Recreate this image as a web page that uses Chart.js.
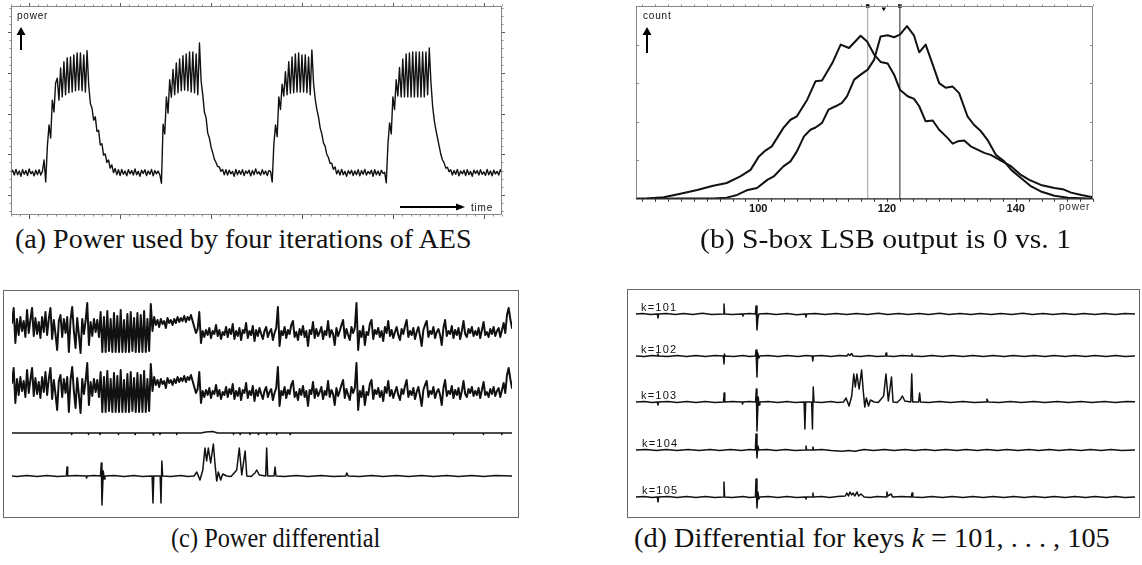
<!DOCTYPE html>
<html>
<head>
<meta charset="utf-8">
<script src="https://cdn.jsdelivr.net/npm/chart.js@4.4.1/dist/chart.umd.min.js"></script>
<style>
  body { margin: 0; background: #fff; width: 1142px; height: 565px; position: relative; overflow: hidden; }
  .pane { position: absolute; }
  .frame { position: absolute; border: 1.5px solid #666; box-sizing: border-box; }
  .cap { position: absolute; font-family: "Liberation Serif", "DejaVu Serif", serif; font-size: 28px; line-height: 32px;
         color: #111; white-space: nowrap; transform-origin: 0 50%; }
</style>
</head>
<body>
<div class="frame" style="left:3px;top:290px;width:516px;height:228px"></div>
<div class="frame" style="left:627px;top:289px;width:513px;height:229px"></div>

<canvas class="pane" id="chartA" width="515" height="222" style="left:0;top:0"></canvas>
<canvas class="pane" id="chartB" width="542" height="224" style="left:600px;top:0"></canvas>
<canvas class="pane" id="chartC" width="525" height="236" style="left:0;top:285px"></canvas>
<canvas class="pane" id="chartD" width="522" height="236" style="left:620px;top:285px"></canvas>

<div class="cap" style="left:15px;top:223px">(a) Power used by four iterations of AES</div>
<div class="cap" style="left:700px;top:223px;transform:scaleX(1.06)">(b) S-box LSB output is 0 vs. 1</div>
<div class="cap" style="left:171px;top:522px;transform:scaleX(0.87)">(c) Power differential</div>
<div class="cap" style="left:634px;top:522px;transform:scaleX(1.01)">(d) Differential for keys <i>k</i> = 101, . . . , 105</div>

<script>
// ---------- (a) power trace, one value per sample, four AES iterations ----------
var powerIter1 = [5.4,6.1,4.9,6.3,5.0,5.9,4.6,6.2,5.1,6.0,4.8,6.4,5.2,5.8,4.7,6.1,5.0,6.2,4.9,5.8,
  8.6,3.2,12.0,17.2,14.0,23.3,20.4,27.5,
  28.7,23.3,31.2,24.1,32.7,24.6,33.7,25.1,33.9,25.3,34.4,25.6,34.9,25.8,34.9,25.6,34.4,25.3,35.4,
  27.0,22.5,21.3,18.4,19.2,15.6,15.9,12.3,12.6,9.8,10.1,8.0,8.6,6.6,7.4,5.5,6.5,5.0,6.2,4.8,6.3,5.1,5.9];
var powerIter2 = [4.7,6.2,5.2,6.0,4.9,6.4,5.0,5.8,4.6,6.1,5.3,6.2,4.8,5.9,5.1,6.3,4.7,6.0,5.2,5.9,
  5.0,2.9,17.4,15.0,24.1,20.1,28.3,24.0,
  30.8,24.6,32.4,25.1,33.4,25.6,34.2,25.8,34.6,25.6,35.1,25.3,35.1,25.1,34.6,24.6,37.3,28.0,
  24.6,20.3,19.0,15.2,14.0,11.8,10.4,8.8,8.0,7.0,6.9,5.8,6.3,5.0,6.2,4.9,6.1,5.2,5.8,4.6,6.3,5.0,6.0];
var powerIter3 = [5.1,6.2,4.8,5.9,5.3,6.1,4.7,6.0,5.0,6.4,5.2,5.7,4.9,6.2,5.1,5.9,4.8,6.0,
  5.8,3.2,12.5,17.2,14.3,24.1,21.0,27.2,24.3,
  30.3,24.6,32.7,25.0,33.9,25.1,34.6,25.3,34.9,25.3,34.4,25.3,34.4,25.1,33.9,24.6,35.6,27.5,
  23.6,21.0,19.2,16.5,15.0,12.8,12.0,10.0,9.2,7.8,7.8,6.3,6.9,5.2,6.1,4.9,6.3,5.0,5.8,4.6,6.0,5.2,6.1,4.8];
var powerIter4 = [5.9,5.0,6.2,4.7,6.0,5.1,6.3,4.9,5.8,5.2,6.1,4.6,6.2,5.0,5.9,4.8,6.1,5.3,
  5.6,3.0,12.5,17.7,15.0,24.1,21.0,28.3,24.3,
  31.3,24.1,33.4,24.1,34.6,24.1,34.9,24.1,35.1,24.1,35.1,24.1,35.1,24.1,35.1,24.1,35.1,24.6,36.1,27.8,
  22.0,18.4,16.0,14.0,12.0,10.0,8.6,7.9,6.6,6.8,5.7,6.2,4.9,6.0,5.1,6.3,4.7,5.9,5.2,6.1,
  4.8,6.2,5.0,5.8,4.6,6.1,5.3,6.0,4.9,6.2,5.1,5.7,4.8,6.3,5.0,5.9,4.7,6.1,5.2,5.8,4.9,6.2,5.4];

// ---------- (b) histogram of power, [power, count] ----------
var histBit0 = [[81,0],[82.7,1],[85.3,4],[87.9,13],[90.5,23],[93.0,34],[95.1,41],[97.2,58],[98.8,75],[100.1,110],
  [101.1,125],[102.1,136],[103.9,184],[105.0,205],[106.0,214],[107.6,257],[108.9,305],[109.9,307],[111.5,352],[112.8,400],
  [114.1,391],[115.9,423],[116.9,408],[118.0,374],[119.0,355],[120.1,351],[121.1,322],[122.0,283],[123.2,266],[124.2,259],
  [125.0,240],[126.0,201],[127.1,203],[128.1,179],[129.4,158],[130.2,143],[131.0,149],[132.0,151],[133.0,136],[135.1,119],
  [136.1,114],[137.7,99],[139.3,84],[140.8,62],[142.1,49],[143.9,36],[146.0,28],[147.3,25],[148.6,16],[150.2,10],[152,4]];
var histBit1 = [[81,0],[87.9,0.5],[93.0,1],[95.1,3],[96.7,10],[98.2,22],[99.8,28],[101.4,49],[102.4,58],[103.9,84],
  [105.0,97],[106.0,123],[107.1,162],[108.1,179],[108.9,185],[109.9,197],[110.9,231],[112.0,240],[113.0,249],[113.8,266],
  [114.9,309],[115.9,322],[117.0,335],[118.0,361],[119.0,421],[120.1,424],[121.1,419],[122.0,426],[123.1,448],[124.2,423],
  [125.0,380],[126.0,400],[127.1,348],[128.1,300],[129.1,288],[130.2,291],[131.2,274],[132.5,214],[133.5,192],[134.6,175],
  [135.6,153],[136.9,114],[138.2,97],[139.3,75],[140.8,54],[142.4,32],[143.9,19],[146.0,8],[148.1,3],[152,0]];
var meanPower = [117, 122];
var midPower = 119.5;
var binTicks = [100, 120, 140];

// ---------- (c) average power (both groups look identical) and differentials ----------
var avgPower = [2,17,-18,6,-10,8,-6,4,-12,15,-8,5,17,-11,7,-9,3,-13,8,-7,
  13,-10,6,17,-14,5,-9,-25,4,10,-12,6,-8,8,-27,5,18,-6,-23,7,
  -10,-28,6,-9,4,22,-20,3,-11,6,-7,5,-12,
  13,-27,8,-27,14,-26,6,-27,12,-27,9,-27,15,-27,5,-27,11,-27,13,-26,
  7,-27,12,-27,10,-27,14,-27,6,-26,
  21,-6,8,0,5,-2,6,1,4,-3,7,2,5,0,6,2,8,3,7,4,9,3,8,5,10,4,
  -2,-8,-4,13,-18,-6,-12,-5,-10,-3,-13,-6,-9,0,-11,-5,-14,-7,-10,-2,
  -12,-4,-9,1,-14,-6,-11,-3,-15,-5,-8,2,-13,-6,-10,-1,-16,
  -5,-11,-3,-9,-14,-6,-2,-12,-7,-4,-15,-8,-3,18,-21,-6,-10,-2,-13,-5,
  -9,0,4,-12,-7,-15,-4,-10,-1,-12,-6,-21,-5,-9,3,-13,-4,-11,-7,-2,
  -14,-6,-10,4,-12,-5,-9,-20,-3,-11,-6,0,5,-13,-4,-10,-15,-2,-8,-3,
  22,-25,-6,-12,-1,-20,-7,-10,1,5,-14,-5,-9,-3,-12,-6,-16,-2,-8,4,
  -11,-5,-13,-7,-2,-10,-15,-4,-9,-1,5,-12,-6,-10,-3,-14,-7,-2,-11,-21,
  -5,0,4,-12,-6,-9,-2,-13,-7,-4,-10,-20,-3,5,-11,-6,-9,-1,-13,-5,
  -10,-3,-14,-6,4,-9,-12,-4,-8,-2,-11,-6,-10,-3,-13,-5,3,-10,-7,-12,
  -4,-9,-2,-11,-6,-3,-12,-5,2,-8,10,17,6,-3];
// difference of the two averages, [sample, value]
var avgDiff = [[0,0],[35.5,0],[35.7,-1.5],[35.9,0],[45.5,0],[45.7,-1.5],[45.9,0],[52.4,0],[52.6,-1.5],[52.8,0],
  [63.4,0],[63.6,-1.5],[63.8,0],[73.4,0],[73.6,-1.5],[73.8,0],[84.3,0],[84.5,-2],[84.7,0],[88.3,0],[88.5,-1.5],[88.7,0],
  [98.3,0],[98.5,-1.5],[98.7,0],[113,0],[116,1],[120,1.5],[123,0],[132.2,0],[132.4,-1.5],[132.6,0],[136.2,0],[136.4,-1.5],[136.6,0],
  [142.1,0],[142.3,-1.5],[142.5,0],[147.1,0],[147.3,-1.5],[147.5,0],[152.1,0],[152.3,-1.5],[152.5,0],[158.1,0],[158.3,-1.5],[158.5,0],
  [166.1,0],[166.3,-1.5],[166.5,0],[263.8,0],[264,-1.5],[264.2,0],[281.7,0],[281.9,-1.5],[282.1,0],[292.7,0],[292.9,-1.5],[293.1,0],[299,0]];

// ---------- (d) differential per key guess, [sample, value]; k=103 is the one in (c) ----------
var keyLabels = ['k=101', 'k=102', 'k=103', 'k=104', 'k=105'];
var diffK101 = [[-23,0],[-19,0.6],[-14,-0.4],[-9.6,0],[-9.2,-4],[-8.8,0],[-4,0.5],[2,-0.6],[7,0.4],[13,-0.5],[19,0.7],[25,-0.4],
  [32.4,0],[32.8,10],[33.2,0],[38,-0.6],[44.5,0],[44.9,-2],[45.3,0],[49,0.6],[52.8,0],[53.2,8],[53.8,-16],[54.4,-4],[55,0],
  [60,0.6],[66,-0.5],[73,0.4],[79,-0.7],[84.6,0],[85,-3],[85.4,0],[91,0.6],[97,-0.4],[104,0.5],[111,-0.6],[117,0.4],[124,-0.5],
  [131,0.7],[137,-0.4],[144,0.5],[150,-0.6],[157,0.4],[163,-0.5],[170,0.7],[176,-0.4],[183,0.5],[190,-0.6],[196,0.4],[203,-0.5],
  [209,0.6],[216,-0.4],[223,0.7],[229,-0.5],[236,0.4],[242,-0.6],[249,0.5],[256,-0.4],[262,0.6],[269,-0.5],[275,0.4],[282,-0.6],
  [288,0.5],[294,0]];
var diffK102 = [[-23,0],[-18,-0.5],[-13,0.5],[-9.6,0],[-9.2,2],[-8.8,0],[-3,-0.6],[3,0.5],[9,-0.4],[15,0.6],[21,-0.5],[27,0.4],
  [32.4,0],[32.8,-8],[33.1,2],[33.5,0],[39,-0.5],[45,0.5],[49,-0.4],[52.8,0],[53.2,6],[53.8,-21],[54.3,3],[55,-2],[55.6,0],
  [61,0.5],[67,-0.6],[73,0.4],[80,-0.5],[85,0.4],[88.9,0],[89.3,-5],[89.7,0],[95,0.5],[101,-0.4],[106,0.6],[111,0],[112,2],
  [113,0.5],[114,2.5],[115,0],[120,-0.5],[125,0.5],[130,-0.4],[135.6,0],[136,3],[136.4,0],[141,-0.5],[146,0.4],[152,0],[152.4,2],
  [152.8,0],[159,-0.5],[165,0.6],[172,-0.4],[178,0.5],[185,-0.6],[191,0.4],[198,-0.5],[204,0.6],[211,-0.4],[217,0.5],[224,-0.6],
  [230,0.4],[237,-0.5],[243,0.6],[250,-0.4],[256,0.5],[263,-0.6],[269,0.4],[276,-0.5],[282,0.6],[288,-0.4],[294,0]];
var diffK103 = [[-23,0],[-18,0.5],[-13,-0.5],[-9.6,0],[-9.2,-3],[-8.8,0],[-3,0.6],[3,-0.4],[9,0.5],[15,-0.6],[21,0.4],[27,-0.5],
  [32.5,0],[32.9,9],[33.3,0],[38,0.5],[44.3,0],[44.6,-2],[45,0],[49,0.5],[52.9,0],[53.4,13],[53.8,-29],[54.2,-12],[54.6,5],
  [55.1,-3],[55.6,0],[61,0.5],[67,-0.5],[73,0.6],[78,-0.4],[83.8,0],[84.3,-27],[84.8,0],[88.6,0],[89.1,-27],[89.6,15],[90.1,0],
  [95,-0.5],[101,0.5],[105,-0.5],[108.9,0],[110.5,4],[112.4,-4],[114.1,6],[115.4,28],[116.4,15],[117.4,28],[118.8,13],[120.4,32],
  [121.4,12],[122.4,-5],[123.4,4],[124.8,-4],[126,2],[128.4,0],[131,-0.5],[134.4,6],[135.9,28],[137.4,1],[139.4,25],[140.4,0],
  [143,-0.5],[145.3,3],[146.3,6],[147.9,1],[151.7,0],[152.3,28],[152.9,0],[156.7,0],[157.3,9],[157.9,0],[163,-0.5],[170,0.5],
  [177,-0.4],[185,0.5],[192,-0.5],[199.6,0],[200.2,3],[201,0],[208,-0.5],[215,0.5],[222,-0.4],[230,0.5],[237,-0.5],[245,0.5],
  [252,-0.4],[260,0.5],[267,-0.5],[275,0.5],[282,-0.4],[289,0.5],[299,0]];
var diffK104 = [[-23,0],[-17,0.5],[-10,-0.5],[-4,0.4],[3,-0.6],[10,0.5],[17,-0.4],[24,0.6],[30,-0.5],[37,0.4],[44,-0.5],[49,0.5],
  [52.8,0],[53.2,16],[53.8,-8],[54.4,4],[55,0],[60,0.5],[66,-0.4],[72,0.6],[78,-0.5],[84.6,0],[85,4],[85.4,0],[89,0],[89.4,3],
  [89.8,0],[95,0.5],[101,-0.4],[108,-1.2],[112,-0.6],[116,-1.3],[122,0.4],[128,-0.5],[135,0.5],[141,-0.4],[148,0.6],[154,-0.5],
  [161,0.4],[167,-0.6],[174,0.5],[181,-0.4],[187,0.6],[194,-0.5],[200,0.4],[207,-0.6],[213,0.5],[220,-0.4],[227,0.6],[233,-0.5],
  [240,0.4],[246,-0.6],[253,0.5],[260,-0.4],[266,0.6],[273,-0.5],[279,0.4],[286,-0.6],[294,0]];
var diffK105 = [[-23,0],[-18,0.5],[-13,-0.4],[-9.6,0],[-9.2,-5],[-8.8,0],[-3,0.5],[3,-0.6],[9,0.4],[15,-0.5],[21,0.6],[27,-0.4],
  [32.4,0],[32.8,15],[33.2,0],[38,-0.5],[45,0.5],[49,-0.4],[52.8,0],[53.2,18],[53.8,-11],[54.4,5],[55,-2],[55.6,0],[61,0.5],
  [67,-0.4],[73,0.6],[79,-0.5],[84.6,0],[85,-2],[85.4,0],[89,0],[89.4,4],[89.8,0],[95,0.5],[100,-0.4],[105,0.5],[110,1],
  [111,4],[112,1],[113,5],[114,2],[115,4],[116,1],[117.5,5],[118.5,1],[120,3],[122,0],[126,-0.5],[130,0.5],[136,0],[136.5,5],
  [137,1],[139.3,3],[140,0],[146,0.5],[152,0],[152.5,4],[153,0],[159,-0.5],[165,0.5],[172,-0.4],[178,0.6],[185,-0.5],[191,0.4],
  [198,-0.6],[204,0.5],[211,-0.4],[217,0.6],[224,-0.5],[230,0.4],[237,-0.6],[243,0.5],[250,-0.4],[256,0.6],[263,-0.5],[269,0.4],
  [276,-0.6],[282,0.5],[288,-0.4],[294,0]];

// ---------- helpers ----------
var INK = '#111';
var SANS = '"Liberation Sans", Arial, sans-serif';

function toXY(pairs, shift) {
  return pairs.map(function (p) { return { x: p[0], y: p[1] + (shift || 0) }; });
}
function trace(data, width, color) {
  return { data: data, borderColor: color || INK, borderWidth: width, pointRadius: 0,
           fill: false, tension: 0, borderJoinStyle: 'round', borderCapStyle: 'round' };
}
var baseOpts = function (pad, x, y, extra) {
  return {
    responsive: false, animation: false, events: [],
    layout: { padding: pad },
    scales: { x: x, y: y },
    plugins: Object.assign({ legend: { display: false }, tooltip: { enabled: false } }, extra || {})
  };
};

// frame and tick marks drawn from the chart's own scales
var frameTicks = {
  id: 'frameTicks',
  afterDatasetsDraw: function (chart, args, o) {
    if (!o || !o.on) return;
    var ctx = chart.ctx, a = chart.chartArea, sx = chart.scales.x, sy = chart.scales.y;
    ctx.save();
    ctx.lineWidth = 1;
    ctx.strokeStyle = o.frameColor;
    ctx.beginPath();
    if (o.sides.indexOf('left') >= 0) { ctx.moveTo(a.left + 0.5, a.top); ctx.lineTo(a.left + 0.5, a.bottom); }
    if (o.sides.indexOf('right') >= 0) { ctx.moveTo(a.right - 0.5, a.top); ctx.lineTo(a.right - 0.5, a.bottom); }
    if (o.sides.indexOf('top') >= 0) { ctx.moveTo(a.left, a.top + 0.5); ctx.lineTo(a.right, a.top + 0.5); }
    if (o.sides.indexOf('bottom') >= 0) { ctx.moveTo(a.left, a.bottom - 0.5); ctx.lineTo(a.right, a.bottom - 0.5); }
    ctx.stroke();
    if (o.axisColor) {
      ctx.strokeStyle = o.axisColor; ctx.lineWidth = 1.3;
      ctx.beginPath(); ctx.moveTo(a.left, a.bottom); ctx.lineTo(a.right, a.bottom); ctx.stroke();
    }
    ctx.lineWidth = 1;
    o.ticks.forEach(function (t) {
      ctx.strokeStyle = t.color || o.frameColor;
      var scale = (t.side === 'top' || t.side === 'bottom') ? sx : sy;
      for (var v = t.from; v <= t.to + 1e-6; v += t.step) {
        var p = Math.round(scale.getPixelForValue(v)) + 0.5;
        ctx.beginPath();
        if (t.side === 'bottom') { ctx.moveTo(p, a.bottom); ctx.lineTo(p, a.bottom + t.len); }
        else if (t.side === 'top') { ctx.moveTo(p, a.top); ctx.lineTo(p, a.top - t.len); }
        else if (t.side === 'left') { ctx.moveTo(a.left, p); ctx.lineTo(a.left - t.len, p); }
        else { ctx.moveTo(a.right, p); ctx.lineTo(a.right + t.len, p); }
        ctx.stroke();
      }
    });
    ctx.restore();
  }
};

function upArrow(ctx, x, tip, bottom) {
  ctx.fillStyle = '#000'; ctx.strokeStyle = '#000'; ctx.lineWidth = 2;
  ctx.beginPath(); ctx.moveTo(x, bottom); ctx.lineTo(x, tip + 5); ctx.stroke();
  ctx.beginPath(); ctx.moveTo(x, tip); ctx.lineTo(x - 4.5, tip + 8); ctx.lineTo(x + 4.5, tip + 8); ctx.closePath(); ctx.fill();
}
function rightArrow(ctx, left, tip, y) {
  ctx.fillStyle = '#000'; ctx.strokeStyle = '#000'; ctx.lineWidth = 2;
  ctx.beginPath(); ctx.moveTo(left, y); ctx.lineTo(tip - 5, y); ctx.stroke();
  ctx.beginPath(); ctx.moveTo(tip, y); ctx.lineTo(tip - 9, y - 3.5); ctx.lineTo(tip - 9, y + 3.5); ctx.closePath(); ctx.fill();
}
function smallText(ctx, txt, x, y, color, size, spacing) {
  ctx.save();
  ctx.font = (size || 10) + 'px ' + SANS;
  ctx.fillStyle = color || '#111';
  ctx.textBaseline = 'alphabetic';
  if ('letterSpacing' in ctx) ctx.letterSpacing = (spacing || 0.8) + 'px';
  ctx.fillText(txt, x, y);
  ctx.restore();
}

// ---------- (a) ----------
var powerA = powerIter1.concat(powerIter2, powerIter3, powerIter4);
new Chart(document.getElementById('chartA'), {
  type: 'line',
  data: { datasets: [trace(powerA.map(function (v, i) { return { x: i, y: v }; }), 1.4)] },
  options: baseOpts({ left: 11, right: 13, top: 6, bottom: 7 },
    { type: 'linear', display: false, min: 0, max: powerA.length - 1 },
    { display: false, min: -4.9, max: 46.4 },
    { frameTicks: { on: true, frameColor: '#888', sides: ['left', 'right', 'top', 'bottom'], ticks: [
        { side: 'bottom', from: 0, to: 297, step: 5.5, len: 1.5 },
        { side: 'bottom', from: 11, to: 297, step: 55, len: 4, color: '#555' },
        { side: 'top', from: 0, to: 297, step: 5.5, len: 1.5 },
        { side: 'top', from: 11, to: 297, step: 55, len: 3, color: '#555' },
        { side: 'left', from: -4, to: 46, step: 2, len: 1.5 },
        { side: 'left', from: 0, to: 46, step: 10, len: 3, color: '#555' },
        { side: 'right', from: -4, to: 46, step: 2, len: 1.5 },
        { side: 'right', from: 0, to: 46, step: 10, len: 3, color: '#555' } ] } }),
  plugins: [frameTicks, {
    id: 'notesA',
    afterDraw: function (chart) {
      var ctx = chart.ctx, a = chart.chartArea;
      ctx.save();
      smallText(ctx, 'power', a.left + 6, a.top + 13);
      upArrow(ctx, a.left + 10, a.top + 21, a.top + 44);
      rightArrow(ctx, a.right - 102, a.right - 37, a.bottom - 8);
      smallText(ctx, 'time', a.right - 31, a.bottom - 4);
      ctx.restore();
    }
  }]
});

// ---------- (b) ----------
var meanSets = meanPower.map(function (m, k) {
  return trace([{ x: m, y: 0 }, { x: m, y: 500 }], 1, k === 0 ? '#9a9a9a' : '#222');
});
new Chart(document.getElementById('chartB'), {
  type: 'line',
  data: { datasets: [
    trace(toXY(histBit0), 2),
    trace(toXY(histBit1), 2),
    meanSets[0], meanSets[1],
    { type: 'scatter', data: [{ x: meanPower[0], y: 500 }, { x: meanPower[1], y: 500 }], pointStyle: 'rect',
      pointRadius: 2.5, backgroundColor: '#000', borderColor: '#000', borderWidth: 0, clip: false, showLine: false },
    { type: 'scatter', data: [{ x: midPower, y: 493 }], pointStyle: 'triangle', rotation: 180,
      pointRadius: 2.5, backgroundColor: '#000', borderColor: '#000', borderWidth: 0, clip: false, showLine: false }
  ] },
  options: baseOpts({ left: 36, right: 49, top: 6, bottom: 4 },
    { type: 'linear', min: 81, max: 152, position: 'bottom',
      afterBuildTicks: function (s) { s.ticks = binTicks.map(function (v) { return { value: v }; }); },
      grid: { display: false, drawTicks: false }, border: { display: false },
      ticks: { color: '#111', padding: 4, maxRotation: 0, autoSkip: false,
               font: { family: SANS, size: 11, weight: 'bold' } } },
    { display: false, min: 0, max: 500 },
    { frameTicks: { on: true, frameColor: '#888', axisColor: '#222', sides: ['left', 'right', 'top'], ticks: [
        { side: 'bottom', from: 82, to: 152, step: 2, len: 3, color: '#333' },
        { side: 'top', from: 82, to: 152, step: 2, len: 1.5 },
        { side: 'left', from: 100, to: 400, step: 100, len: -3 },
        { side: 'right', from: 100, to: 400, step: 100, len: -3 } ] } }),
  plugins: [frameTicks, {
    id: 'notesB',
    afterDraw: function (chart) {
      var ctx = chart.ctx, a = chart.chartArea;
      ctx.save();
      smallText(ctx, 'count', a.left + 7, a.top + 13);
      upArrow(ctx, a.left + 11, a.top + 21, a.top + 47);
      smallText(ctx, 'power', a.right - 34, a.bottom + 11, '#333');
      ctx.restore();
    }
  }]
});

// ---------- (c) ----------
var offsetsC = [0, -60, -108, -151];
new Chart(document.getElementById('chartC'), {
  type: 'line',
  data: { datasets: [
    trace(avgPower.map(function (v, i) { return { x: i, y: v + offsetsC[0] }; }), 2),
    trace(avgPower.map(function (v, i) { return { x: i, y: v + offsetsC[1] }; }), 2),
    trace(toXY(avgDiff, offsetsC[2]), 1.4),
    trace(toXY(diffK103, offsetsC[3]), 1.5)
  ] },
  options: baseOpts({ left: 12, right: 13, top: 5, bottom: 4 },
    { type: 'linear', display: false, min: 0, max: 299 },
    { display: false, min: -192, max: 35 }),
  plugins: []
});

// ---------- (d) ----------
var offsetsD = [0, -42, -88, -136, -183];
var keyDiffs = [diffK101, diffK102, diffK103, diffK104, diffK105];
new Chart(document.getElementById('chartD'), {
  type: 'line',
  data: { datasets: keyDiffs.map(function (d, k) { return trace(toXY(d, offsetsD[k]), 1.5); }) },
  options: baseOpts({ left: 16, right: 7, top: 4, bottom: 4 },
    { type: 'linear', display: false, min: -23.2, max: 294.4 },
    { display: false, min: -203, max: 25 }),
  plugins: [{
    id: 'keyLabels',
    afterDraw: function (chart) {
      var ctx = chart.ctx, a = chart.chartArea, sy = chart.scales.y;
      keyLabels.forEach(function (lab, k) {
        smallText(ctx, lab, a.left + 5 + (k >= 3 ? 1 : 0), sy.getPixelForValue(offsetsD[k]) - 3, '#111', 11, 1.2);
      });
    }
  }]
});
</script>
</body>
</html>
